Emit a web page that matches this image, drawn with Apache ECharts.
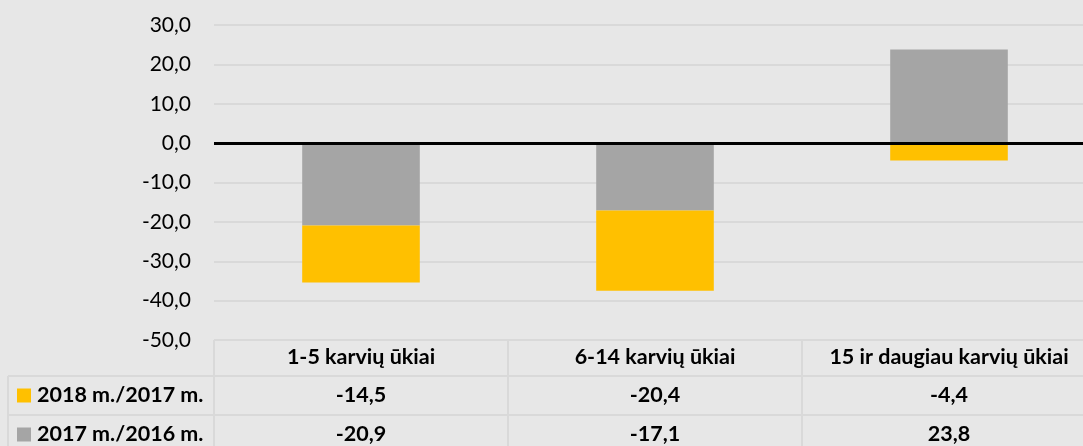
<!DOCTYPE html>
<html><head><meta charset="utf-8">
<script src="https://cdn.jsdelivr.net/npm/echarts@6/dist/echarts.min.js"></script>
<style>html,body{margin:0;padding:0;background:#e7e7e7;}#c{width:1083px;height:446px;}</style>
</head><body><div id="c"></div>
<script>
var categories = ['1-5 karvių ūkiai', '6-14 karvių ūkiai', '15 ir daugiau karvių ūkiai'];
var seriesNames = ['2018 m./2017 m.', '2017 m./2016 m.'];
var values2018 = [-14.5, -20.4, -4.4];
var values2017 = [-20.9, -17.1, 23.8];
var yTicks = {min: -50, max: 30, interval: 10};

var colors = {y2018: '#ffc000', y2017: '#a5a5a5'};
var FONT = 'Lato';
var BOLD_SIZE = 21.5, REG_SIZE = 21;
function fmt(v){ return v.toFixed(1).replace('.', ','); }

var chart = echarts.init(document.getElementById('c'), null, {renderer: 'canvas'});
var gridTop = 25, gridLeft = 214, gridWidth = 882, gridBottom = 106;
var option = {
  backgroundColor: '#e7e7e7',
  animation: false,
  grid: {left: gridLeft, top: gridTop, width: gridWidth, bottom: gridBottom, containLabel: false, outerBoundsMode: 'none'},
  xAxis: {
    type: 'category', data: categories, position: 'bottom',
    axisLine: {show: false}, axisTick: {show: false},
    axisLabel: {fontFamily: FONT, fontSize: BOLD_SIZE, fontWeight: 'bold', color: '#000', margin: 6, interval: 0}
  },
  yAxis: {
    type: 'value', min: yTicks.min, max: yTicks.max, interval: yTicks.interval,
    axisLine: {show: false}, axisTick: {show: false},
    splitLine: {lineStyle: {color: '#d9d9d9', width: 2}},
    axisLabel: {fontFamily: FONT, fontSize: REG_SIZE, color: '#000', margin: 23, formatter: fmt}
  },
  series: [
    {name: seriesNames[1], type: 'bar', stack: 'a', data: values2017, barWidth: '40%',
     itemStyle: {color: colors.y2017},
     markLine: {silent: true, symbol: 'none', label: {show: false},
       lineStyle: {color: '#000', width: 3, type: 'solid'}, data: [{yAxis: 0}]}},
    {name: seriesNames[0], type: 'bar', stack: 'a', data: values2018, barWidth: '40%',
     itemStyle: {color: colors.y2018}}
  ]
};
chart.setOption(option);

// data table below the plot
var lineColor = '#d9d9d9';
var plotBottom = chart.convertToPixel({yAxisIndex: 0}, yTicks.min);
var plotRight = gridLeft + gridWidth;
var rowH = [36, 39, 39];
var r1 = plotBottom + rowH[0], r2 = r1 + rowH[1], r3 = r2 + rowH[2];
var tableLeft = 8;
var g = [];
function hline(y, x1, x2){ g.push({type:'line', shape:{x1:x1,y1:y,x2:x2,y2:y}, style:{stroke:lineColor, lineWidth:2}}); }
function vline(x, y1, y2){ g.push({type:'line', shape:{x1:x,y1:y1,x2:x,y2:y2}, style:{stroke:lineColor, lineWidth:2}}); }
hline(r1, tableLeft, plotRight);
hline(r2, tableLeft, plotRight);
vline(tableLeft, r1, r3);
var catW = gridWidth / categories.length;
for (var i = 0; i < categories.length; i++) vline(gridLeft + catW * i, plotBottom, r3);
var rows = [{name: seriesNames[0], color: colors.y2018, vals: values2018},
            {name: seriesNames[1], color: colors.y2017, vals: values2017}];
rows.forEach(function(row, ri){
  var yc = (ri === 0 ? (r1 + r2) / 2 : (r2 + r3) / 2);
  g.push({type:'rect', shape:{x:17, y:yc-7, width:14, height:14}, style:{fill:row.color}});
  g.push({type:'text', x:37, y:yc, style:{text:row.name, font:'bold ' + BOLD_SIZE + 'px ' + FONT, fill:'#000', textVerticalAlign:'middle', textAlign:'left'}});
  row.vals.forEach(function(v, ci){
    var xc = chart.convertToPixel({xAxisIndex: 0}, categories[ci]);
    g.push({type:'text', x:xc, y:yc, style:{text:fmt(v), font:'bold ' + BOLD_SIZE + 'px ' + FONT, fill:'#000', textVerticalAlign:'middle', textAlign:'center'}});
  });
});
chart.setOption({graphic: g});
</script></body></html>
